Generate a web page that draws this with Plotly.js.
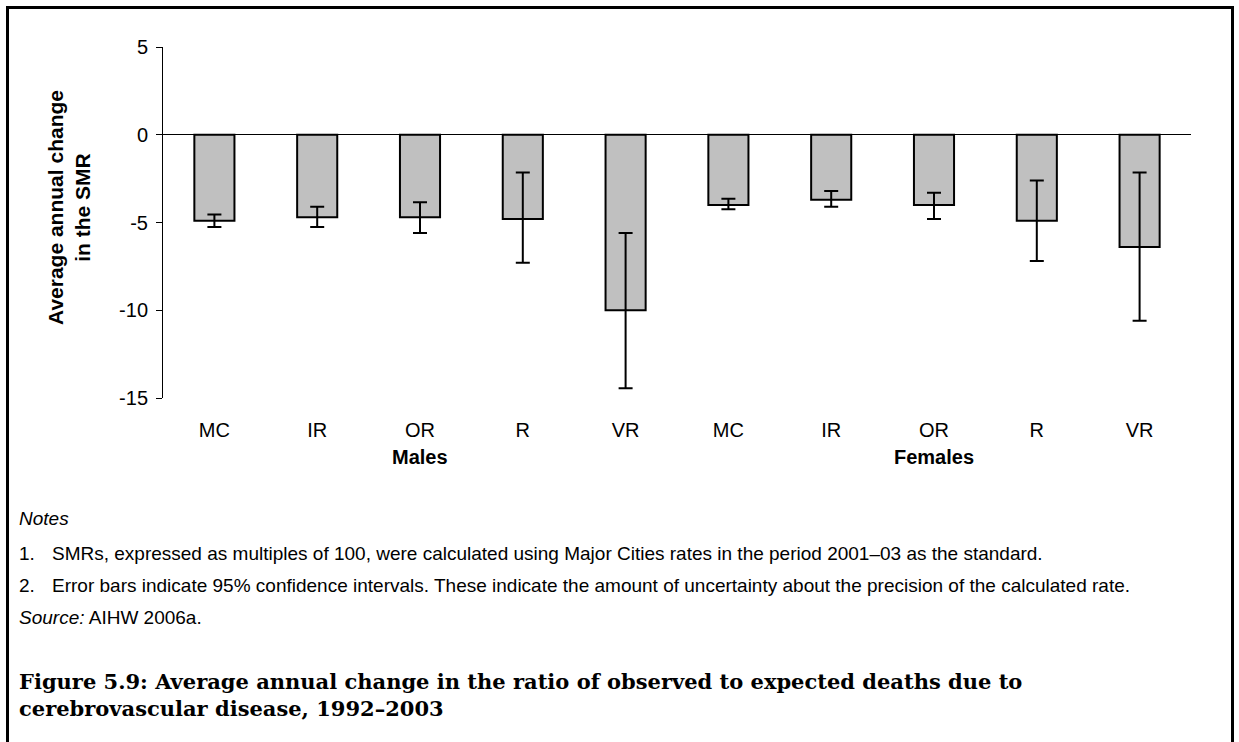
<!DOCTYPE html>
<html>
<head>
<meta charset="utf-8">
<script src="https://cdn.plot.ly/plotly-3.0.1.min.js"></script>
<style>
  html, body { margin: 0; padding: 0; background: #fff; }
  #wrap { position: relative; width: 1239px; height: 742px; overflow: hidden; }
  #chart { width: 1239px; height: 742px; }
  #frame { position: absolute; left: 6px; top: 6px; width: 1222px; height: 760px;
           border: 3px solid #000; pointer-events: none; }
</style>
</head>
<body>
<div id="wrap">
  <div id="chart"></div>
  <div id="frame"></div>
</div>
<script>
// Remoteness areas, two groups of five
const regions = ['MC', 'IR', 'OR', 'R', 'VR', 'MC', 'IR', 'OR', 'R', 'VR'];
const sexes   = ['Males', 'Males', 'Males', 'Males', 'Males',
                 'Females', 'Females', 'Females', 'Females', 'Females'];

// Average annual change in the SMR, with 95% confidence limits
const change  = [-4.9, -4.7, -4.7, -4.8, -10.0, -4.0, -3.7, -4.0, -4.9, -6.4];
const ciLower = [-5.25, -5.25, -5.6, -7.3, -14.45, -4.25, -4.1, -4.8, -7.2, -10.6];
const ciUpper = [-4.55, -4.1, -3.85, -2.15, -5.6, -3.65, -3.2, -3.3, -2.6, -2.15];

// Value axis ticks
const yTickVals = [5, 0, -5, -10, -15];
const yTickText = ['5', '0', '-5', '-10', '-15'];
const yRange = [-15, 5];

const xIndex = regions.map((_, i) => i);

// Plot area in pixels
const W = 1239, H = 742;
const L = 163, R = 1191, T = 47, B = 398;
const px2x = px => (px - L) / (R - L);
const px2y = py => (B - py) / (B - T);

const SANS = 'Liberation Sans, Arial, sans-serif';
const SERIF = 'DejaVu Serif, Liberation Serif, serif';

const trace = {
  type: 'bar',
  x: xIndex,
  y: change,
  width: 0.39,
  marker: { color: '#c0c0c0', line: { color: '#000', width: 2 } },
  error_y: {
    type: 'data',
    symmetric: false,
    array: change.map((v, i) => ciUpper[i] - v),
    arrayminus: change.map((v, i) => v - ciLower[i]),
    color: '#000',
    thickness: 2,
    width: 7
  },
  hoverinfo: 'skip'
};

// Group labels centred under each group of bars
const groupNames = [...new Set(sexes)];
const groupAnn = groupNames.map(g => {
  const idx = xIndex.filter(i => sexes[i] === g);
  const mid = idx.reduce((a, b) => a + b, 0) / idx.length;
  return {
    xref: 'x', yref: 'paper', x: mid, y: px2y(457),
    xanchor: 'center', yanchor: 'middle', showarrow: false,
    text: '<b>' + g + '</b>',
    font: { family: SANS, size: 20, color: '#000' }
  };
});

const noteFont = { family: SANS, size: 19, color: '#000' };
const textAnn = [
  { x: px2x(69), y: px2y(208), text: '<b>Average annual change<br>in the SMR</b>',
    textangle: -90, xanchor: 'center', yanchor: 'middle',
    font: { family: SANS, size: 21, color: '#000' } },
  { x: px2x(17), y: px2y(518), text: '<i>Notes</i>', xanchor: 'left', yanchor: 'middle', font: noteFont },
  { x: px2x(17), y: px2y(553), text: '1.', xanchor: 'left', yanchor: 'middle', font: noteFont },
  { x: px2x(50), y: px2y(553),
    text: 'SMRs, expressed as multiples of 100, were calculated using Major Cities rates in the period 2001–03 as the standard.',
    xanchor: 'left', yanchor: 'middle', font: noteFont },
  { x: px2x(17), y: px2y(585), text: '2.', xanchor: 'left', yanchor: 'middle', font: noteFont },
  { x: px2x(50), y: px2y(585),
    text: 'Error bars indicate 95% confidence intervals. These indicate the amount of uncertainty about the precision of the calculated rate.',
    xanchor: 'left', yanchor: 'middle', font: noteFont },
  { x: px2x(17), y: px2y(617), text: '<i>Source:</i> AIHW 2006a.', xanchor: 'left', yanchor: 'middle', font: noteFont },
  { x: px2x(17), y: px2y(695),
    text: '<b>Figure 5.9: Average annual change in the ratio of observed to expected deaths due to<br>cerebrovascular disease, 1992–2003</b>',
    xanchor: 'left', yanchor: 'middle', align: 'left',
    font: { family: SERIF, size: 21, color: '#000' } }
].map(a => Object.assign({ xref: 'paper', yref: 'paper', showarrow: false }, a));

const layout = {
  width: W, height: H,
  margin: { l: L, r: W - R, t: T, b: H - B, pad: 0 },
  paper_bgcolor: '#fff',
  plot_bgcolor: '#fff',
  showlegend: false,
  xaxis: {
    range: [-0.5, regions.length - 0.5],
    tickmode: 'array', tickvals: xIndex, ticktext: regions,
    ticks: '', showline: false, showgrid: false, zeroline: false,
    ticklabelstandoff: 18,
    tickfont: { family: SANS, size: 20, color: '#000' },
    fixedrange: true
  },
  // category boundary ticks hanging from the zero line
  xaxis2: {
    overlaying: 'x', anchor: 'free', side: 'bottom',
    position: (0 - yRange[0]) / (yRange[1] - yRange[0]),
    range: [-0.5, regions.length - 0.5],
    tick0: 0.5, dtick: 1,
    ticks: 'outside', ticklen: 6, tickwidth: 1, tickcolor: '#000',
    showticklabels: false, showline: false, showgrid: false, zeroline: false,
    fixedrange: true
  },
  yaxis: {
    range: yRange,
    tickmode: 'array', tickvals: yTickVals, ticktext: yTickText,
    ticks: 'outside', ticklen: 6, tickwidth: 1, tickcolor: '#000',
    showline: true, linecolor: '#000', linewidth: 1,
    zeroline: true, zerolinecolor: '#000', zerolinewidth: 1,
    showgrid: false,
    ticklabelstandoff: 4,
    tickfont: { family: SANS, size: 20, color: '#000' },
    fixedrange: true
  },
  annotations: groupAnn.concat(textAnn)
};

Plotly.newPlot('chart', [trace], layout, { displayModeBar: false, staticPlot: true });
</script>
</body>
</html>
